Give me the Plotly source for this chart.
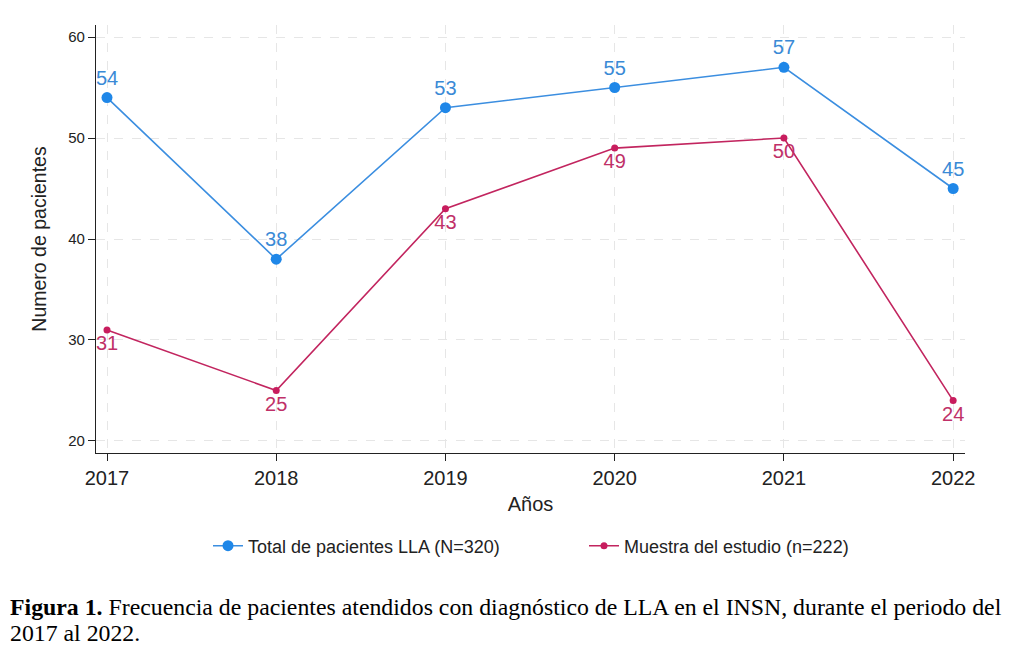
import plotly.graph_objects as go

years = [2017, 2018, 2019, 2020, 2021, 2022]
total_lla = [54, 38, 53, 55, 57, 45]
muestra = [31, 25, 43, 49, 50, 24]
y_ticks = [20, 30, 40, 50, 60]

blue = "#1f87e8"
blue_line = "#3b8ee0"
blue_text = "#3a8ad6"
pink = "#c81d5e"
pink_line = "#c2255f"
pink_text = "#c03068"

fig = go.Figure()
fig.add_trace(go.Scatter(
    x=years, y=total_lla, mode="lines+markers+text",
    name="Total de pacientes LLA (N=320)",
    line=dict(color=blue_line, width=1.6),
    marker=dict(color=blue, size=11),
    text=[str(v) for v in total_lla], textposition="top center",
    textfont=dict(color=blue_text, size=20, family="Liberation Sans, Arial"),
))
fig.add_trace(go.Scatter(
    x=years, y=muestra, mode="lines+markers+text",
    name="Muestra del estudio (n=222)",
    line=dict(color=pink_line, width=1.6),
    marker=dict(color=pink, size=7),
    text=[str(v) for v in muestra], textposition="bottom center",
    textfont=dict(color=pink_text, size=20, family="Liberation Sans, Arial"),
))

PW, PH = 869, 428
fig.update_layout(
    width=1018, height=654,
    margin=dict(l=88, r=61, t=17, b=209, autoexpand=False),
    paper_bgcolor="white", plot_bgcolor="white",
    font=dict(family="Liberation Sans, Arial", color="#222"),
    showlegend=True,
    legend=dict(orientation="h", x=(208 - 96) / PW, xanchor="left", y=-(546 - 453) / PH, yanchor="middle",
                entrywidth=331, entrywidthmode="pixels",
                font=dict(size=18, color="#222"), traceorder="normal"),
)
fig.update_xaxes(
    range=[2016.935, 2022.07], tickvals=years, ticktext=[str(y) for y in years],
    showline=True, linecolor="#222", linewidth=1.3,
    ticks="outside", ticklen=7, tickcolor="#222", tickwidth=1.3,
    tickfont=dict(size=20, color="#222"),
    showgrid=True, gridcolor="#e6e6e6", griddash="dash", gridwidth=1.2,
    zeroline=False,
    title=dict(text="Años", font=dict(size=20, color="#222"), standoff=8),
)
fig.update_yaxes(
    range=[18.81, 61.19], tickvals=y_ticks,
    showline=True, linecolor="#222", linewidth=1.3,
    ticks="outside", ticklen=7, tickcolor="#222", tickwidth=1.3,
    tickfont=dict(size=15, color="#222"),
    showgrid=True, gridcolor="#e6e6e6", griddash="dash", gridwidth=1.2,
    zeroline=False,
    title=dict(text="Numero de pacientes", font=dict(size=19.5, color="#222"), standoff=16),
)

fig.add_annotation(
    xref="paper", yref="paper", x=-88 / PW, y=-(607 - 453) / PH, xanchor="left", yanchor="middle",
    text="<b>Figura 1.</b> Frecuencia de pacientes atendidos con diagnóstico de LLA en el INSN, durante el periodo del",
    showarrow=False, font=dict(family="Liberation Serif, Times New Roman", size=23.8, color="#000"),
)
fig.add_annotation(
    xref="paper", yref="paper", x=-88 / PW, y=-(633 - 453) / PH, xanchor="left", yanchor="middle",
    text="2017 al 2022.",
    showarrow=False, font=dict(family="Liberation Serif, Times New Roman", size=23.8, color="#000"),
)

fig.write_html("out.html")
